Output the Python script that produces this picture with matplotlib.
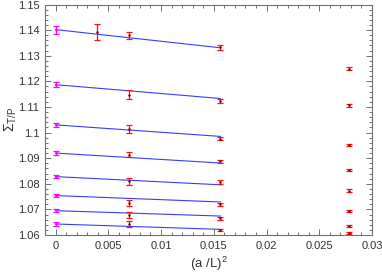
import matplotlib
matplotlib.use("Agg")
import matplotlib.pyplot as plt
from matplotlib.ticker import MultipleLocator, FuncFormatter

plt.rcParams['font.family'] = ['Liberation Sans', 'DejaVu Sans']
plt.rcParams['mathtext.fontset'] = 'custom'
plt.rcParams['mathtext.rm'] = 'Liberation Sans'
plt.rcParams['mathtext.it'] = 'Liberation Sans'

# (a/L)^2 positions
x_cont = 0.0
x_L16 = 1 / 256
x_L12 = 1 / 144
x_L8 = 1 / 64
x_L6 = 1 / 36

# continuum extrapolations (x = 0)
cont_vals = [1.1400, 1.1187, 1.1030, 1.0919, 1.0828, 1.0754, 1.0696, 1.0643]
cont_errs = [0.0015, 0.0011, 0.0009, 0.0008, 0.0007, 0.0006, 0.0006, 0.0006]

# lattice data
L16_vals = [1.1392]
L16_errs = [0.0030]
L12_vals = [1.1379, 1.1148, 1.1014, 1.0914, 1.0810, 1.0725, 1.0678, 1.0642]
L12_errs = [0.0015, 0.0017, 0.0014, 0.0011, 0.0013, 0.0012, 0.0010, 0.0011]
L8_vals = [1.1333, 1.1124, 1.0975, 1.0887, 1.0807, 1.0720, 1.0665, 1.0620]
L8_errs = [0.0009, 0.0007, 0.0006, 0.0006, 0.0006, 0.0006, 0.0005, 0.0005]
L6_vals = [1.1250, 1.1106, 1.0952, 1.0853, 1.0773, 1.0694, 1.0634, 1.0607]
L6_errs = [0.0006, 0.0005, 0.0005, 0.0005, 0.0005, 0.0005, 0.0004, 0.0004]

# linear fit lines: value at x=0 and at x=1/64
fit_start = [1.1402, 1.1187, 1.1030, 1.0920, 1.0828, 1.0754, 1.0695, 1.0643]
fit_end = [1.1331, 1.1133, 1.0985, 1.0881, 1.0796, 1.0729, 1.0674, 1.0622]

fig = plt.figure(figsize=(3.82, 2.73), dpi=100)
ax = fig.add_axes([0.1178, 0.1392, 0.8560, 0.8443])

blue = '#3a3aff'
red = '#ff1010'
mag = '#ff00ff'

for s, e in zip(fit_start, fit_end):
    ax.plot([x_cont, x_L8], [s, e], color=blue, lw=0.8, zorder=2)

ekw = dict(fmt='none', capsize=2.5, elinewidth=0.9, capthick=0.9, zorder=3)
ax.errorbar([x_cont] * len(cont_vals), cont_vals, yerr=cont_errs, ecolor=mag, **ekw)
ax.errorbar([x_L16] * len(L16_vals), L16_vals, yerr=L16_errs, ecolor=red, **ekw)
ax.errorbar([x_L12] * len(L12_vals), L12_vals, yerr=L12_errs, ecolor=red, **ekw)
ax.errorbar([x_L8] * len(L8_vals), L8_vals, yerr=L8_errs, ecolor=red, **ekw)
ax.errorbar([x_L6] * len(L6_vals), L6_vals, yerr=L6_errs, ecolor=red, **ekw)

# small center dots
ax.plot([x_cont] * len(cont_vals), cont_vals, ls='none', marker='.', ms=1.5, color=mag, zorder=4)
for xv, vals in [(x_L16, L16_vals), (x_L12, L12_vals), (x_L8, L8_vals), (x_L6, L6_vals)]:
    ax.plot([xv] * len(vals), vals, ls='none', marker='.', ms=1.5, color='#800000', zorder=4)

ax.set_xlim(-0.001, 0.03)
ax.set_ylim(1.06, 1.15)

ax.xaxis.set_major_locator(MultipleLocator(0.005))
ax.xaxis.set_minor_locator(MultipleLocator(0.001))
ax.yaxis.set_major_locator(MultipleLocator(0.01))
ax.yaxis.set_minor_locator(MultipleLocator(0.002))
fmt = FuncFormatter(lambda v, p: ('%.4f' % v).rstrip('0').rstrip('.') if abs(v) > 1e-12 else '0')
ax.xaxis.set_major_formatter(fmt)
ax.yaxis.set_major_formatter(fmt)

gray = '#707070'
for sp in ax.spines.values():
    sp.set_color(gray)
    sp.set_linewidth(0.8)
ax.tick_params(which='both', direction='in', top=True, right=True, color=gray,
               labelcolor='#333333', labelsize=8, width=0.7)
ax.tick_params(which='major', length=4, pad=4)
ax.tick_params(which='minor', length=2)

ax.set_xlabel('(a /L)$^2$', fontsize=9.5, color='#333333')
ax.xaxis.set_label_coords(0.5, -0.085)
ax.set_ylabel(r'$\Sigma_{\mathrm{T/P}}$', fontsize=10, color='#333333')
ax.yaxis.set_label_coords(-0.078, 0.5)

fig.savefig('out.png', dpi=100)
